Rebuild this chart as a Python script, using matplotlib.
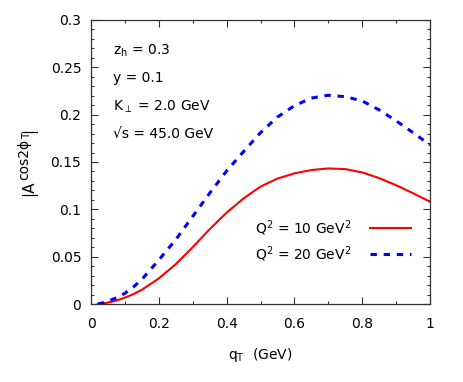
import matplotlib
matplotlib.use("Agg")
import matplotlib.pyplot as plt
from matplotlib.ticker import MultipleLocator, FuncFormatter
from matplotlib.transforms import IdentityTransform

qT = [0.02, 0.035, 0.05, 0.075, 0.10, 0.125, 0.15, 0.20, 0.25, 0.30, 0.35, 0.40, 0.45, 0.50,
      0.55, 0.60, 0.65, 0.70, 0.75, 0.80, 0.85, 0.90, 0.95, 1.00]
A_Q10 = [0.0, 0.0006, 0.0015, 0.0037, 0.0067, 0.0104, 0.015, 0.027, 0.042, 0.060, 0.079,
         0.0965, 0.1115, 0.124, 0.1325, 0.138, 0.1415, 0.1432, 0.1425, 0.139, 0.133,
         0.1255, 0.117, 0.108]
A_Q20 = [0.0, 0.0013, 0.003, 0.0065, 0.0113, 0.018, 0.026, 0.0465, 0.068, 0.0925, 0.117,
         0.1405, 0.161, 0.181, 0.1975, 0.2095, 0.2175, 0.2205, 0.219, 0.2145, 0.205,
         0.1935, 0.181, 0.168]
labels = [r"Q$^2$ = 10 GeV$^2$", r"Q$^2$ = 20 GeV$^2$"]
info = [r"z$_\mathrm{h}$ = 0.3", "y = 0.1", r"K$_\perp$ = 2.0 GeV", "\u221as = 45.0 GeV"]
ylabel_parts = ["|A", "cos2\u03d5", "T", "|"]

plt.rcParams['font.family'] = 'DejaVu Sans'
plt.rcParams['mathtext.fontset'] = 'dejavusans'
plt.rcParams['font.size'] = 10

fig = plt.figure(figsize=(4.63, 3.82), dpi=100)
ax = fig.add_axes([91/463, 1 - 304/382, (430-91)/463, (304-20)/382])

ax.plot(qT, A_Q10, color='#ff0000', lw=1.5, label=labels[0])
ax.plot(qT, A_Q20, color='#0000ff', lw=2.2, linestyle=(0, (2.1, 2.2)), label=labels[1])

ax.set_xlim(0, 1)
ax.set_ylim(0, 0.3)
ax.xaxis.set_major_locator(MultipleLocator(0.2))
ax.xaxis.set_minor_locator(MultipleLocator(0.1))
ax.yaxis.set_major_locator(MultipleLocator(0.05))
ax.yaxis.set_minor_locator(MultipleLocator(0.01))
fmt = FuncFormatter(lambda v, p: ('%g' % round(v, 3)))
ax.xaxis.set_major_formatter(fmt)
ax.yaxis.set_major_formatter(fmt)
ax.tick_params(which='both', direction='in', top=True, right=True, color='#333333', width=0.8)
ax.tick_params(which='major', length=5, labelsize=10)
ax.tick_params(axis='x', which='major', pad=9)
ax.tick_params(axis='y', which='major', pad=7)
ax.tick_params(which='minor', length=2.5)
for s in ax.spines.values():
    s.set_color('#333333')
    s.set_linewidth(0.9)

ax.set_xlabel(r"q$_\mathrm{T}$  (GeV)", fontsize=10, labelpad=11)

# y label composed of pieces (rotated), gnuplot-like large superscript
r = fig.canvas.get_renderer()
H = fig.get_figheight() * fig.dpi
sizes = [11, 10, 7.5, 11]
raises = [0, 5.0, 2.5, 0]
xb = 33.0
texts = []
for t, fs in zip(ylabel_parts, sizes):
    tx = fig.text(0, 0, t, fontsize=fs, rotation=90, rotation_mode='anchor',
                  ha='left', va='baseline', transform=IdentityTransform())
    texts.append(tx)
lengths = [tx.get_window_extent(r).height for tx in texts]
total = sum(lengths)
ycenter = H - 161.5
y = ycenter - total / 2
for tx, L, rz in zip(texts, lengths, raises):
    tx.set_position((xb - rz, y))
    y += L

ys = [0.893, 0.795, 0.695, 0.597]
for t, yy in zip(info, ys):
    ax.text(0.065, yy, t, transform=ax.transAxes, fontsize=10, va='center', ha='left')

ax.legend(loc='center right', bbox_to_anchor=(0.945, 0.222), frameon=False,
          markerfirst=False, handlelength=3.0, handletextpad=1.3, labelspacing=0.45,
          fontsize=10, borderaxespad=0, borderpad=0)

fig.savefig("out.png", dpi=100)
